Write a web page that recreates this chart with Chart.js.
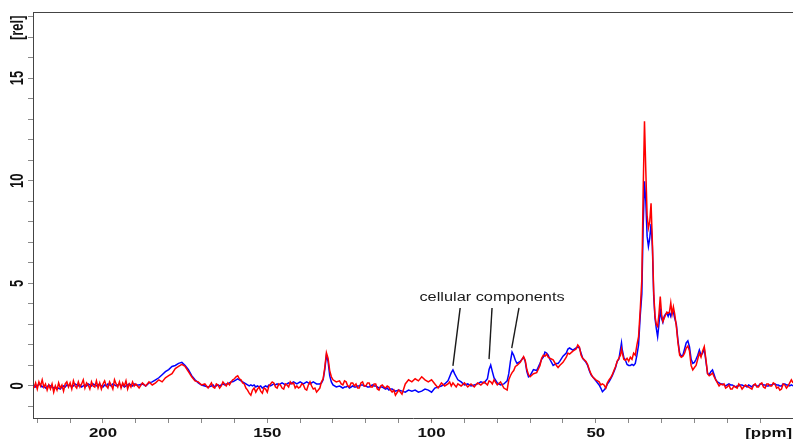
<!DOCTYPE html>
<html>
<head>
<meta charset="utf-8">
<script src="https://cdn.jsdelivr.net/npm/chart.js@4.4.1/dist/chart.umd.min.js"></script>
<style>
  html, body { margin: 0; padding: 0; background: #fff; }
  canvas { display: block; }
</style>
</head>
<body>
<canvas id="nmr" width="793" height="439"></canvas>
<script>
// chemical shift of each sample [ppm]
const ppm = [
  221,220.5,220,219.5,219,218.5,218,217.5,217,216.5,216,215.5,215,214.5,214,213.5,213,212.5,212,211.5,
  211,210.5,210,209.5,209,208.5,208,207.5,207,206.5,206,205.5,205,204.5,204,203.5,203,202.5,202,201.5,
  201,200.5,200,199.5,199,198.5,198,197.5,197,196.5,196,195.5,195,194.5,194,193.5,193,192.5,192,191.5,191,190.5,190,
  189,188,187,186,185,184,183,182,181,180,179,178,177,176,175,174,173,172,171,170,169,168,
  167,166.5,166,165.5,165,164.5,164,163.5,163,162.5,162,161.5,161,160.5,160,159.5,159,158.5,158,157.5,
  157,156.5,156,155.5,155,154.5,154,153.5,153,152.5,152,151.5,151,150.5,150,149.5,149,148.5,148,147.5,
  147,146.5,146,145.5,145,144.5,144,143.5,143,142.5,142,141.5,141,140.5,140,139.5,139,138.5,138,137.5,
  137,136.5,136,135.5,135,
  134,133.5,133,132.5,132,131.5,131,130.5,130,129,
  128,127.5,127,126.5,126,125.5,125,124.5,124,123.5,123,122.5,122,121.5,121,120.5,120,119.5,119,118.5,
  118,117.5,117,116.5,116,115.5,115,114.5,114,113.5,113,112.5,112,111.5,111,
  110,109,108,107,106,105,104,103,102,101,100,99,98,97,96,
  95,94.5,94,93.5,93,92.5,92,91,90,89,88,87,86,85,84,83,82.5,82,81.5,81,80,79,78,
  77,76.5,76,75.5,75,74.5,74,73,72,71.5,71,70.5,70,69,68,67,66.5,66,65.5,65,64.5,64,63,62,61.5,61,60,59,58.5,58,57,56,55.5,55,54.5,54,53,52.5,52,51.5,51,50,49,48.5,48,
  47.5,47,46.5,46,45.5,45,44.5,44,43.5,43,42.5,42.2,42,41.5,41,40.5,40,39.5,39,38.5,
  38,37.5,37,36.5,36,35.6,35.2,34.8,34.4,34,33.6,33.2,32.8,32.4,32,31.6,31.2,30.8,30.4,30,
  29.6,29.2,28.8,28.4,28,27.6,27.2,26.8,26.4,26,25.5,25,24.5,24,23.5,23,22.5,22,21.5,21,
  20.5,20,19.5,19,18.5,18,17.5,17,16.5,16,15.5,15,14.5,14,13.5,13,12.5,12,
  11.5,11,10.5,10,9.5,9,8.5,8,7.5,7,6.5,6,5.5,5,4.5,4,3.5,3,2.5,2,
  1.5,1,0.5,0,-0.5,-1,-1.5,-2,-2.5,-3,-3.5,-4,-4.5,-5,-5.5,-6,-6.5,-7,-7.5,-8,
  -8.5,-9,-9.5,-10
];

// blue spectrum [rel]
const blueRel = [
  0.05,-0.05,0.0,0.1,0.05,-0.05,0.0,-0.1,-0.05,0.05,0.0,-0.05,-0.1,-0.05,-0.15,-0.1,-0.15,-0.05,0.0,-0.05,
  0.05,0.0,0.05,-0.05,0.0,0.1,0.05,0.0,0.05,-0.05,0.0,0.05,0.0,0.1,0.05,0.0,0.1,0.05,0.0,0.05,
  0.1,0.0,-0.05,0.05,0.0,0.1,0.05,0.0,0.1,0.05,0.0,0.05,0.1,0.0,0.05,-0.05,0.0,0.05,0.1,0.05,0.0,0.1,0.05,
  0.05,0.1,0.0,0.15,0.2,0.3,0.4,0.55,0.7,0.8,0.95,1.0,1.1,1.15,1.0,0.8,0.5,0.3,0.15,0.05,0.0,-0.05,
  0.0,0.05,-0.05,0.0,0.05,0.0,0.05,0.1,0.05,0.1,0.1,0.15,0.2,0.2,0.25,0.3,0.35,0.3,0.25,0.2,
  0.15,0.1,0.05,0.0,0.05,0.0,0.05,-0.05,0.0,-0.05,0.0,-0.1,-0.05,0.0,-0.05,0.05,0.0,0.05,0.1,0.05,
  0.1,0.05,0.1,0.15,0.1,0.05,0.1,0.15,0.1,0.15,0.2,0.15,0.1,0.15,0.2,0.15,0.1,0.15,0.2,0.15,
  0.1,0.15,0.2,0.15,0.1,
  0.1,0.15,0.3,0.8,1.5,1.2,0.5,0.2,0.05,-0.05,
  0.0,-0.05,-0.1,-0.05,-0.05,0.0,-0.1,-0.05,0.0,-0.05,-0.05,0.0,0.0,0.05,0.05,0.0,0.0,-0.05,-0.05,0.0,
  0.05,0.0,0.0,-0.05,-0.1,-0.05,-0.05,-0.1,-0.15,-0.1,-0.2,-0.15,-0.15,-0.2,-0.25,
  -0.2,-0.25,-0.3,-0.2,-0.25,-0.2,-0.3,-0.25,-0.15,-0.2,-0.3,-0.1,-0.05,0.0,0.1,
  0.25,0.45,0.65,0.78,0.6,0.45,0.3,0.2,0.05,0.1,0.0,0.05,0.1,0.2,0.15,0.35,0.8,1.02,0.7,0.4,0.15,0.05,0.1,
  0.25,0.6,1.2,1.65,1.5,1.25,1.1,1.2,1.4,1.2,0.7,0.45,0.5,0.8,0.75,1.1,1.3,1.4,1.65,1.6,1.5,1.3,1.0,1.1,1.1,1.2,1.45,1.6,1.8,1.85,1.75,1.85,1.9,1.85,1.6,1.35,1.15,1.0,0.75,0.55,0.45,0.25,0.05,-0.1,-0.28,
  -0.2,-0.1,0.1,0.2,0.35,0.5,0.7,0.9,1.2,1.3,1.8,2.1,1.8,1.4,1.25,1.05,1.0,1.0,1.05,1.0,
  1.1,1.5,2.0,3.4,4.5,7.8,9.97,9.0,7.3,6.8,7.2,7.9,6.8,4.4,3.3,2.8,2.4,3.0,3.7,3.3,
  3.1,3.4,3.5,3.56,3.4,3.6,3.4,3.6,3.6,3.3,3.0,2.2,1.6,1.45,1.5,1.8,2.1,2.2,1.9,1.3,
  1.1,1.15,1.3,1.5,1.75,1.5,1.6,1.8,1.2,0.6,0.55,0.7,0.78,0.55,0.3,0.2,0.15,0.1,
  0.1,0.05,0.0,0.05,0.1,0.05,0.05,0.0,-0.05,0.0,0.0,0.05,0.05,0.0,0.0,-0.05,0.05,0.0,-0.05,0.05,
  0.05,0.0,0.0,0.1,0.1,0.05,0.05,0.0,0.0,0.05,0.05,0.1,0.1,0.05,0.05,0.0,0.0,0.1,0.1,0.05,
  0.05,0.0,0.05,0.0
];

// red spectrum [rel]
const redRel = [
  -0.1,0.15,-0.15,0.2,0.0,0.3,-0.05,0.1,-0.2,0.05,-0.15,0.1,-0.3,0.0,-0.2,0.15,-0.1,0.05,-0.25,0.1,
  0.2,-0.05,0.15,-0.15,0.25,0.0,-0.1,0.2,-0.05,0.1,0.3,-0.1,0.15,0.05,-0.15,0.2,0.0,-0.05,0.25,-0.1,
  0.15,-0.15,0.1,0.25,0.0,-0.1,0.2,0.05,-0.15,0.3,0.1,-0.05,0.2,-0.1,0.15,0.0,0.25,-0.15,0.1,-0.05,0.2,0.0,0.1,
  -0.1,0.15,0.0,0.2,0.05,0.15,0.3,0.2,0.4,0.5,0.6,0.85,0.95,1.05,0.95,0.7,0.45,0.25,0.2,0.05,0.1,-0.1,
  0.15,-0.05,-0.1,0.1,0.05,-0.1,0.0,0.2,0.1,0.0,0.15,0.05,0.2,0.3,0.35,0.45,0.5,0.35,0.3,0.15,
  0.1,-0.1,-0.2,-0.35,-0.45,-0.2,-0.1,-0.3,-0.15,-0.05,-0.25,-0.35,-0.1,-0.15,-0.3,0.0,0.1,0.2,0.15,-0.05,
  -0.1,0.1,0.05,-0.1,-0.15,0.1,0.05,-0.05,0.2,0.1,0.15,-0.1,0.0,-0.1,-0.05,0.1,0.05,-0.15,-0.2,0.05,
  0.2,0.0,-0.15,-0.1,-0.3,
  -0.1,0.2,0.35,0.9,1.62,1.35,0.75,0.45,0.3,0.2,
  0.25,0.1,0.05,0.25,0.2,0.0,-0.05,0.15,0.15,0.0,0.1,-0.1,-0.1,0.15,0.2,0.0,0.0,0.15,0.15,-0.05,
  -0.05,0.1,0.1,-0.15,-0.2,0.0,0.05,-0.05,-0.1,0.0,-0.05,-0.2,-0.3,-0.2,-0.45,
  -0.2,-0.4,0.1,0.3,0.2,0.35,0.25,0.45,0.3,0.2,0.3,0.1,-0.1,0.15,0.0,
  0.1,0.2,0.0,0.15,0.05,-0.05,0.1,0.0,0.15,-0.05,0.1,-0.05,0.15,0.05,0.2,0.05,0.25,0.2,0.1,0.3,0.05,0.2,-0.1,
  -0.2,0.3,0.5,0.65,0.75,0.95,1.0,1.15,1.43,1.25,0.8,0.55,0.45,0.6,0.65,1.0,1.35,1.5,1.45,1.55,1.4,1.35,1.27,1.0,0.9,1.0,1.15,1.4,1.6,1.55,1.7,1.8,2.0,1.9,1.5,1.35,1.2,1.05,0.8,0.6,0.45,0.3,0.2,0.05,0.1,
  0.05,-0.1,0.15,0.3,0.4,0.55,0.75,0.95,1.2,1.35,1.5,1.8,1.65,1.3,1.25,1.35,1.2,1.4,1.3,1.6,
  1.5,2.0,2.4,3.7,5.2,9.5,12.9,10.5,8.3,7.7,8.0,8.9,7.0,4.6,3.4,3.0,2.9,3.5,4.36,3.5,
  3.14,3.3,3.45,3.6,3.55,3.6,4.05,3.5,3.85,3.5,2.9,2.1,1.5,1.4,1.45,1.6,1.85,1.95,1.7,1.0,
  0.78,0.9,1.0,1.3,1.6,1.4,1.7,1.92,1.3,0.6,0.5,0.55,0.63,0.45,0.3,0.15,0.0,0.1,
  0.05,0.1,-0.1,-0.05,0.05,-0.15,-0.15,0.0,-0.05,-0.1,0.1,0.0,-0.15,-0.05,0.05,0.0,-0.05,-0.1,-0.15,0.05,
  0.1,-0.05,-0.05,0.1,0.15,-0.05,-0.1,0.1,0.1,0.0,0.0,0.15,0.1,-0.1,-0.05,-0.2,-0.15,0.1,0.05,-0.1,
  0.0,0.15,0.3,0.15
];

const xTicks = [220,210,200,190,180,170,160,150,140,130,120,110,100,90,80,70,60,50,40,30,20,10,0];
const xTickLabels = [200, 150, 100, 50];
const yTicks = [-1,0,1,2,3,4,5,6,7,8,9,10,11,12,13,14,15,16,17,18];
const yTickLabels = [0, 5, 10, 15];
const xUnit = '[ppm]';
const yUnit = '[rel]';

const noteText = 'cellular components';
// pointer lines: [ppm, rel] at the peak end, ppm at the text end
const notePeaks = [[93.5, 0.98], [82.5, 1.31], [75.6, 1.84]];
const noteTops = [91.3, 81.6, 73.4];

function points(vals) {
  return ppm.map((p, i) => ({ x: p, y: vals[i] }));
}

// the picture is stretched sideways, so text is widened too
const SX = 1.35;

const decor = {
  id: 'decor',
  afterDraw(chart) {
    const ctx = chart.ctx;
    const a = chart.chartArea;
    const x = chart.scales.x, y = chart.scales.y;
    ctx.save();
    // top frame
    ctx.strokeStyle = '#444';
    ctx.lineWidth = 1;
    ctx.beginPath();
    ctx.moveTo(a.left, a.top + 0.5);
    ctx.lineTo(a.right, a.top + 0.5);
    ctx.stroke();

    ctx.fillStyle = '#111';
    const tickFont = 'bold 12.5px "Liberation Sans", Arial, sans-serif';
    const text = (t, px, py, font) => {
      ctx.save();
      ctx.translate(px, py);
      ctx.scale(SX, 1);
      ctx.font = font;
      ctx.textAlign = 'center';
      ctx.textBaseline = 'alphabetic';
      ctx.fillText(t, 0, 0);
      ctx.restore();
    };
    xTickLabels.forEach(v => text(String(v), x.getPixelForValue(v), 437, tickFont));
    text(xUnit, x.getPixelForValue(0) + 8.5, 437, tickFont);

    const vtext = (t, py) => {
      ctx.save();
      ctx.translate(23, py);
      ctx.scale(SX, 1);
      ctx.rotate(-Math.PI / 2);
      ctx.font = 'bold 13px "Liberation Sans", Arial, sans-serif';
      ctx.textAlign = 'center';
      ctx.textBaseline = 'alphabetic';
      ctx.fillText(t, 0, 0);
      ctx.restore();
    };
    yTickLabels.forEach(v => vtext(String(v), y.getPixelForValue(v)));
    vtext(yUnit, y.getPixelForValue(17.45));

    // annotation
    ctx.strokeStyle = '#1a1a1a';
    ctx.lineWidth = 1.4;
    notePeaks.forEach((pk, i) => {
      ctx.beginPath();
      ctx.moveTo(x.getPixelForValue(noteTops[i]), y.getPixelForValue(3.8));
      ctx.lineTo(x.getPixelForValue(pk[0]), y.getPixelForValue(pk[1]));
      ctx.stroke();
    });
    ctx.fillStyle = '#1a1a1a';
    ctx.save();
    ctx.translate(x.getPixelForValue(81.6), y.getPixelForValue(4.14));
    ctx.scale(1.36, 1);
    ctx.font = '12px "Liberation Sans", Arial, sans-serif';
    ctx.textAlign = 'center';
    ctx.fillText(noteText, 0, 0);
    ctx.restore();
    ctx.restore();
  }
};

new Chart(document.getElementById('nmr'), {
  type: 'line',
  data: {
    datasets: [
      { label: 'red', data: points(redRel), borderColor: '#ff0000', borderWidth: 1.5, pointRadius: 0, tension: 0 },
      { label: 'blue', data: points(blueRel), borderColor: '#0000ff', borderWidth: 1.5, pointRadius: 0, tension: 0 }
    ]
  },
  options: {
    responsive: false,
    animation: false,
    devicePixelRatio: 1,
    layout: { padding: { top: 12, left: 0, right: 0, bottom: 0 }, autoPadding: false },
    plugins: { legend: { display: false }, tooltip: { enabled: false } },
    scales: {
      x: {
        type: 'linear',
        reverse: true,
        min: -10,
        max: 221.3,
        afterBuildTicks: s => { s.ticks = xTicks.map(v => ({ value: v })); },
        afterFit: s => { s.height = 21; },
        ticks: { callback: () => '', autoSkip: false, maxRotation: 0 },
        grid: { drawOnChartArea: false, drawTicks: true, tickLength: 5, color: '#8a8a8a' },
        border: { display: true, color: '#444', width: 1 }
      },
      y: {
        type: 'linear',
        min: -1.56,
        max: 18.22,
        afterBuildTicks: s => { s.ticks = yTicks.map(v => ({ value: v })); },
        afterFit: s => { s.width = 33; },
        ticks: { callback: () => '', autoSkip: false },
        grid: { drawOnChartArea: false, drawTicks: true, tickLength: 5, color: '#8a8a8a' },
        border: { display: true, color: '#444', width: 1 }
      }
    }
  },
  plugins: [decor]
});
</script>
</body>
</html>
